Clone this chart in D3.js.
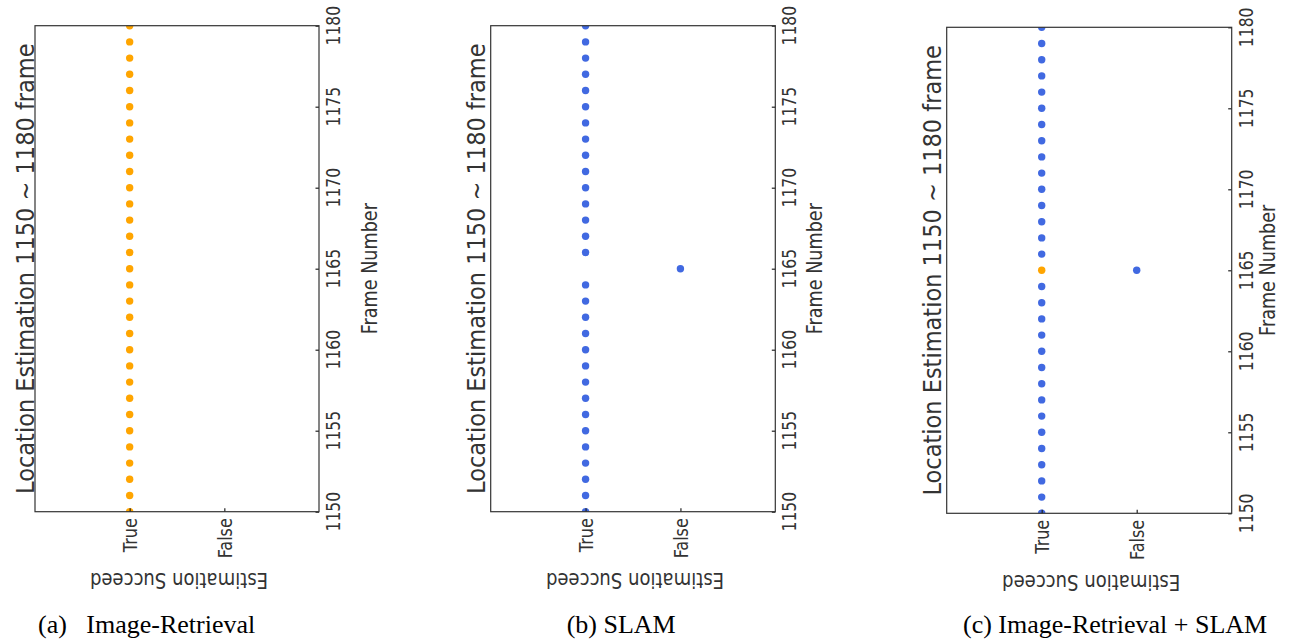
<!DOCTYPE html>
<html><head><meta charset="utf-8">
<script src="https://cdn.jsdelivr.net/npm/d3@7"></script>
<style>body{margin:0;background:#fff} svg{display:block}</style>
</head><body><svg id="chart" width="1289" height="643"></svg>
<script>
// ---- data ----
const frames = [1150,1151,1152,1153,1154,1155,1156,1157,1158,1159,1160,1161,1162,1163,1164,1165,
                1166,1167,1168,1169,1170,1171,1172,1173,1174,1175,1176,1177,1178,1179,1180];
const categories = ["True","False"];
const frameTicks = [1150,1155,1160,1165,1170,1175,1180];
const retrievalSucceed = ["True","True","True","True","True","True","True","True","True","True","True",
  "True","True","True","True","True","True","True","True","True","True","True","True","True","True",
  "True","True","True","True","True","True"];
const slamSucceed = ["True","True","True","True","True","True","True","True","True","True","True",
  "True","True","True","True","False","True","True","True","True","True","True","True","True","True",
  "True","True","True","True","True","True"];
const hybridFrames = [1165];
const hybridSucceed = ["True"];
const titleText = "Location Estimation 1150 ~ 1180 frame";
const xLabel = "Estimation Succeed";
const yLabel = "Frame Number";
const captions = ["(a)\u00a0\u00a0 Image-Retrieval", "(b) SLAM", "(c) Image-Retrieval + SLAM"];

// ---- style / layout ----
const ORANGE = "#FFA500", BLUE = "#4169E1";
const FONT = "DejaVu Sans";
const panels = [
  {left:35, right:319, top:25.7, bottom:511.7, titleX:34, fnX:377, capX:38,
   series:[{f:frames, v:retrievalSucceed, color:ORANGE}]},
  {left:490.7, right:775.3, top:25.7, bottom:511.7, titleX:485, fnX:822, capX:566.7,
   series:[{f:frames, v:slamSucceed, color:BLUE}]},
  {left:946.7, right:1231.7, top:27.3, bottom:513.3, titleX:941, fnX:1275, capX:963,
   series:[{f:frames, v:slamSucceed, color:BLUE},{f:hybridFrames, v:hybridSucceed, color:ORANGE}]}
];

const svg = d3.select("#chart");

panels.forEach((p, i) => {
  const g = svg.append("g");
  const y = d3.scaleLinear().domain([1150, 1180]).range([p.bottom, p.top]);
  const x = d3.scalePoint().domain(categories).range([p.left, p.right]).padding(1);
  const cx = (p.left + p.right) / 2, cy = (p.top + p.bottom) / 2;

  const clipId = "clip" + i;
  svg.append("defs").append("clipPath").attr("id", clipId)
    .append("rect").attr("x", p.left).attr("y", p.top)
    .attr("width", p.right - p.left).attr("height", p.bottom - p.top);

  const dots = g.append("g").attr("clip-path", `url(#${clipId})`);
  p.series.forEach(s => {
    dots.selectAll(null).data(s.f.map((f, k) => ({f, v: s.v[k]}))).enter()
      .append("circle")
      .attr("cx", d => x(d.v)).attr("cy", d => y(d.f))
      .attr("r", 3.7).attr("fill", s.color);
  });

  // axes (ticks inward)
  const ra = g.append("g").attr("transform", `translate(${p.right},0)`)
    .call(d3.axisRight(y).tickValues(frameTicks).tickSize(-3.5).tickFormat(""));
  ra.select(".domain").remove();
  ra.selectAll("line").attr("stroke", "#222").attr("stroke-width", 1.2);
  const ba = g.append("g").attr("transform", `translate(0,${p.bottom})`)
    .call(d3.axisBottom(x).tickSize(-3.5).tickFormat(""));
  ba.select(".domain").remove();
  ba.selectAll("line").attr("stroke", "#222").attr("stroke-width", 1.2);

  // box
  g.append("rect").attr("x", p.left).attr("y", p.top)
    .attr("width", p.right - p.left).attr("height", p.bottom - p.top)
    .attr("fill", "none").attr("stroke", "#333").attr("stroke-width", 1.2);

  // frame tick labels
  g.selectAll(null).data(frameTicks).enter().append("text")
    .attr("transform", d => `translate(${p.right + 21},${y(d)}) rotate(-90) scale(0.78,1)`)
    .attr("text-anchor", "middle").attr("font-family", FONT).attr("font-size", 20)
    .attr("fill", "#333").text(d => d);

  // category labels
  g.selectAll(null).data(categories).enter().append("text")
    .attr("transform", d => `translate(${x(d) + 7.5},${p.bottom + 6.5}) rotate(-90) scale(0.8,1)`)
    .attr("text-anchor", "end").attr("font-family", FONT).attr("font-size", 20)
    .attr("fill", "#333").text(d => d);

  // x label (upside down)
  g.append("text")
    .attr("transform", `translate(${cx + 2},${p.bottom + 61.5}) rotate(180) scale(0.82,1)`)
    .attr("text-anchor", "middle").attr("font-family", FONT).attr("font-size", 22)
    .attr("fill", "#333").text(xLabel);

  // y label (Frame Number)
  g.append("text")
    .attr("transform", `translate(${p.fnX},${cy}) rotate(-90) scale(0.84,1)`)
    .attr("text-anchor", "middle").attr("font-family", FONT).attr("font-size", 21)
    .attr("fill", "#333").text(yLabel);

  // title
  g.append("text")
    .attr("transform", `translate(${p.titleX},${cy}) rotate(-90) scale(0.9,1)`)
    .attr("text-anchor", "middle").attr("font-family", FONT).attr("font-size", 25)
    .attr("fill", "#333").text(titleText);

  // caption
  g.append("text").attr("x", p.capX).attr("y", 632.5)
    .attr("font-family", "Liberation Serif").attr("font-size", 26)
    .attr("fill", "#000").text(captions[i]);
});
</script>
</body></html>
